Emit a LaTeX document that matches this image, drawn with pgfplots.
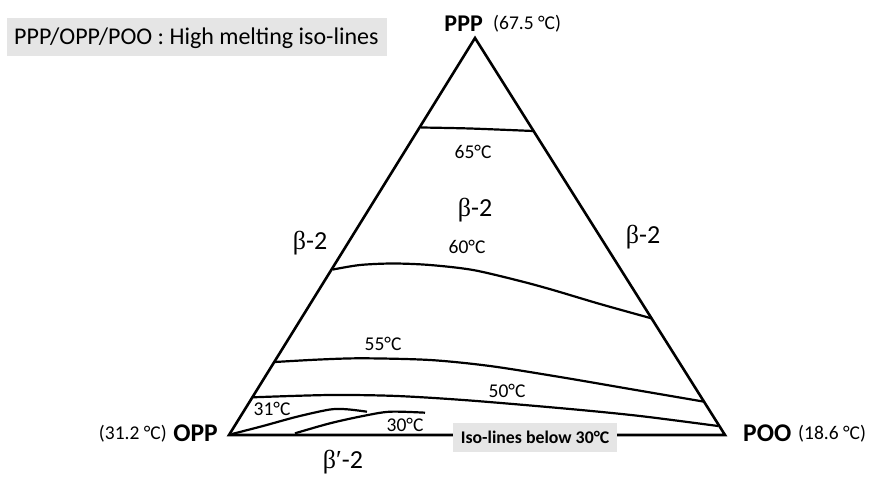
\documentclass[border=0pt]{standalone}
\usepackage{pgfplots}
\pgfplotsset{compat=1.18}
\usepackage{fontspec}
\setmainfont{Carlito}
\newfontfamily\grk{Liberation Serif}
\newcommand{\fs}[1]{\fontsize{#1}{#1}\selectfont}
\begin{document}
\begin{tikzpicture}
\begin{axis}[
    width=872pt, height=478pt, scale only axis,
    xmin=0, xmax=872, ymin=0, ymax=478, y dir=reverse,
    hide axis, clip=false,
  ]
  % frame so the page keeps the full size
  \addplot[draw=none] coordinates {(0,0) (872,478)};

  % triangle OPP - PPP - POO
  \addplot[black, line width=2.6pt, line join=miter] coordinates {
      (725,435) (229,435) (475,38) (725,435) (229,435)
    };

  % iso-lines
  \addplot[black, line width=2.2pt, smooth] coordinates {
      (421,127.5) (470,128.5) (533,131)
    };
  \addplot[black, line width=2.2pt, smooth] coordinates {
      (333,269.5) (360,265) (393,263.5) (430,265) (473,270) (520,281) (553,290) (600,304) (652,318.5)
    };
  \addplot[black, line width=2.2pt, smooth] coordinates {
      (275,362) (320,359.5) (363,358.3) (430,360) (490,366) (560,377) (630,389) (703,401.5)
    };
  \addplot[black, line width=2.2pt, smooth] coordinates {
      (253,397.3) (330,395) (397,396) (470,400.5) (570,409) (640,416) (718,426)
    };
  \addplot[black, line width=2.2pt, smooth] coordinates {
      (232,434) (263,426) (297,416.7) (330,409.5) (347,409.3) (367,411.7)
    };
  \addplot[black, line width=2.2pt, smooth] coordinates {
      (295,433.3) (330,423.3) (363,416) (390,411.7) (425,412.7)
    };

  % labels
  \node[fill=black!10, minimum width=380pt, minimum height=38pt, inner sep=0pt]
    at (axis cs:197,37) {};
  \node[anchor=west, inner sep=0pt] at (axis cs:14,38) {\fs{24}PPP/OPP/POO : High melting iso-lines};
  \node[anchor=east, inner sep=0pt] at (axis cs:483,24) {\fs{24}\bfseries PPP};
  \node[anchor=west, inner sep=0pt] at (axis cs:493,24) {\fs{19.5}(67.5 °C)};
  \node[anchor=east, inner sep=0pt] at (axis cs:218,433) {\fs{25.5}\bfseries OPP};
  \node[anchor=east, inner sep=0pt] at (axis cs:167,434) {\fs{19.5}(31.2 °C)};
  \node[anchor=west, inner sep=0pt] at (axis cs:743,433) {\fs{25.5}\bfseries POO};
  \node[anchor=west, inner sep=0pt] at (axis cs:798,434) {\fs{19.5}(18.6 °C)};
  \node[fill=black!10, minimum width=164pt, minimum height=29pt, inner sep=0pt]
    at (axis cs:535,437.5) {\fs{17.8}\bfseries Iso-lines below 30°C};

  \node at (axis cs:473,152) {\fs{19.5}65°C};
  \node at (axis cs:467,247) {\fs{19.5}60°C};
  \node at (axis cs:383,344) {\fs{19.5}55°C};
  \node at (axis cs:507,391) {\fs{19.5}50°C};
  \node at (axis cs:272,409) {\fs{19.5}31°C};
  \node at (axis cs:405,425) {\fs{19.5}30°C};

  \node at (axis cs:475,210) {\fs{26}{\grk β}-2};
  \node at (axis cs:310,243) {\fs{26}{\grk β}-2};
  \node at (axis cs:643,237) {\fs{26}{\grk β}-2};
  \node at (axis cs:343,462) {\fs{26}{\grk β′}-2};
\end{axis}
\end{tikzpicture}
\end{document}
